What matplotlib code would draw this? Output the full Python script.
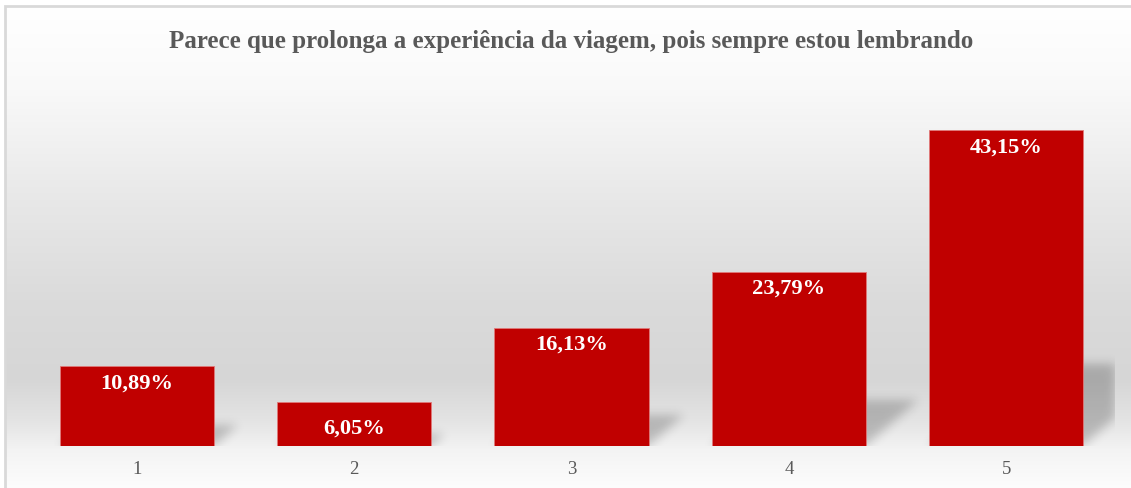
import numpy as np
import matplotlib
matplotlib.use("Agg")
import matplotlib.pyplot as plt
from matplotlib.patches import Rectangle

# dados
categorias = ["1", "2", "3", "4", "5"]
valores = [10.89, 6.05, 16.13, 23.79, 43.15]
rotulos = ["10,89%", "6,05%", "16,13%", "23,79%", "43,15%"]
titulo = "Parece que prolonga a experiência da viagem, pois sempre estou lembrando"

W, H = 1131, 489
fig = plt.figure(figsize=(W / 100, H / 100), dpi=100)
fig.patch.set_facecolor("white")

# fundo em degrade (branco -> cinza -> branco)
bg = fig.add_axes([5 / W, 0, 1 - 5 / W, 1 - 7 / H], zorder=0)
stops_y = np.array([7, 90, 200, 300, 380, 420, 450, 489])
stops_v = np.array([255, 249, 232, 219, 214, 227, 243, 253]) / 255.0
yy = np.arange(7, 489)
col = np.interp(yy, stops_y, stops_v)
grad = np.repeat(col[:, None], 4, axis=1)
bg.imshow(np.dstack([grad, grad, grad]), aspect="auto", extent=[0, 1, 0, 1])
bg.set_axis_off()

# eixo principal
left, right, base = 28, 1115, 447
ymax = 50
ppu = (447 - 131) / 43.15  # pixels por ponto percentual
top = base - ymax * ppu
ax = fig.add_axes([left / W, (H - base) / H, (right - left) / W, (base - top) / H], zorder=1)
ax.patch.set_alpha(0)
x = np.arange(len(categorias))
largura = 0.709
ax.set_xlim(-0.5, len(categorias) - 0.5)
ax.set_ylim(0, ymax)

# sombras (paralelogramo desfocado)
nx, ny = right - left, int(round(base - top))
gx = np.linspace(-0.5, len(categorias) - 0.5, nx)
gy = np.linspace(0, ymax, ny)
X, Y = np.meshgrid(gx, gy)
mask = np.zeros_like(X)
xpx = (len(categorias)) / nx  # dados por pixel em x
for xi, v in zip(x, valores):
    hpx = v * ppu
    dx = 0.30 * hpx * xpx
    dy = 0.26 * v
    t = np.clip(Y / dy, 0, None)
    inside = (Y <= dy) & (X >= xi - largura / 2 + t * dx) & (X <= xi + largura / 2 + t * dx)
    mask[inside] = 1.0
k = np.exp(-0.5 * (np.arange(-15, 16) / 5.0) ** 2)
k /= k.sum()
mask = np.apply_along_axis(lambda r: np.convolve(r, k, mode="same"), 1, mask)
mask = np.apply_along_axis(lambda c: np.convolve(c, k, mode="same"), 0, mask)
rgba = np.zeros((ny, nx, 4))
rgba[..., 3] = mask * 0.21
ax.imshow(rgba, origin="lower", aspect="auto",
          extent=[-0.5, len(categorias) - 0.5, 0, ymax], zorder=1)

ax.bar(x, valores, width=largura, color="#C00000", edgecolor="#e07a7a",
       linewidth=0.6, zorder=2)

serif = ["Liberation Serif", "DejaVu Serif"]
for xi, v, r in zip(x, valores, rotulos):
    off = 3.5 if v < 8 else 2.2
    ax.text(xi, v - off, r, ha="center", va="center", color="white",
            fontsize=16.2, fontweight="bold", family=serif, zorder=3)

ax.set_xticks(x)
ax.set_xticklabels(categorias, family=serif, fontsize=13.5, color="#595959")
ax.tick_params(axis="x", length=0, pad=10)
ax.set_yticks([])
for s in ax.spines.values():
    s.set_visible(False)

fig.text(0.505, 1 - 42 / H, titulo, ha="center", va="center", fontsize=18,
         fontweight="bold", color="#595959", family=serif)

# borda
fig.patches.append(Rectangle((5 / W, -0.1), 1.2, 1.1 - 7 / H, transform=fig.transFigure,
                             fill=False, edgecolor="#d9d9d9", linewidth=2, zorder=5))

fig.savefig("out.png", dpi=100)
